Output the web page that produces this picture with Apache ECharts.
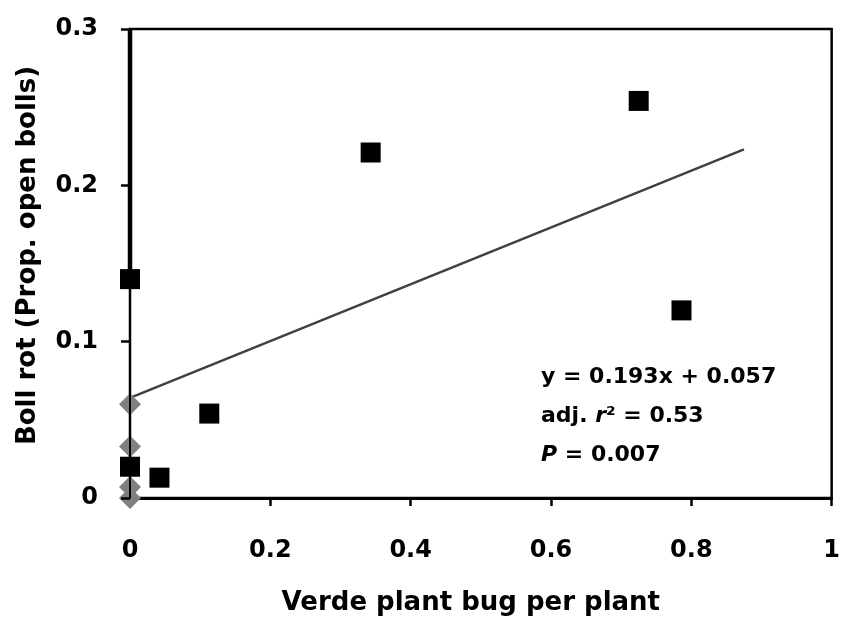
<!DOCTYPE html>
<html>

<head>
    <meta charset="utf-8" />
    <style type="text/css">
        html, body {
            margin: 0;
            padding: 0;
            background: #fff;
        }
    </style>
    <script src="https://cdn.jsdelivr.net/npm/echarts@6/dist/echarts.min.js"></script>
</head>

<body>
    <div id="main" style="width: 843px; height: 623px"></div>
    <script type="text/javascript">
        // 黑色方块点
        var squarePoints = [
            [0, 0.14], [0, 0.02], [0.042, 0.013], [0.113, 0.054],
            [0.343, 0.221], [0.725, 0.254], [0.786, 0.12]
        ];
        // 灰色菱形点 (x = 0)
        var diamondPoints = [[0, 0.06], [0, 0.033], [0, 0.007], [0, 0]];
        // 回归线两端
        var trendLine = [[0, 0.064], [0.875, 0.223]];
        // 左轴上方的粗线段
        var thickSeg = [[0, 0.14], [0, 0.3]];
        var xTicks = [0, 0.2, 0.4, 0.6, 0.8, 1];
        var yTicks = [0, 0.1, 0.2, 0.3];

        var font = "'DejaVu Sans', sans-serif";
        var myChart = echarts.init(document.getElementById("main"));

        function tickFmt(list) {
            return function (v) {
                var s = list.find(function (t) { return Math.abs(t - v) < 1e-9; });
                return s === undefined ? "" : String(s);
            };
        }

        var option = {
            animation: false,
            grid: {
                left: 130,
                top: 29,
                right: 10,
                bottom: 125,
                show: true,
                borderColor: "#000",
                borderWidth: 2.5
            },
            xAxis: {
                type: "value",
                min: 0,
                max: 1,
                interval: 0.2,
                name: "Verde plant bug per plant",
                nameLocation: "middle",
                nameGap: 92,
                nameTextStyle: { fontFamily: font, fontWeight: "bold", fontSize: 26, color: "#000", padding: [0, 20, 0, 0] },
                axisLine: { onZero: false, lineStyle: { color: "#000", width: 3 } },
                axisTick: { show: true, inside: false, length: 8, lineStyle: { color: "#000", width: 2.5 } },
                splitLine: { show: false },
                axisLabel: {
                    margin: 41,
                    fontFamily: font,
                    fontWeight: "bold",
                    fontSize: 24,
                    color: "#000",
                    formatter: tickFmt(xTicks)
                }
            },
            yAxis: {
                type: "value",
                min: 0,
                max: 0.3,
                interval: 0.1,
                z: 5,
                name: "Boll rot (Prop. open bolls)",
                nameLocation: "middle",
                nameGap: 89,
                nameTextStyle: { fontFamily: font, fontWeight: "bold", fontSize: 26, color: "#000", padding: [0, 0, 0, 16] },
                axisLine: { onZero: false, lineStyle: { color: "#000", width: 2 } },
                axisTick: { show: true, inside: false, length: 9, lineStyle: { color: "#000", width: 2.5 } },
                splitLine: { show: false },
                axisLabel: {
                    margin: 32,
                    fontFamily: font,
                    fontWeight: "bold",
                    fontSize: 24,
                    color: "#000",
                    formatter: tickFmt(yTicks)
                }
            },
            graphic: [
                {
                    type: "text",
                    left: 541,
                    top: 366,
                    style: {
                        text: "{n|y = 0.193x + 0.057}\n{n|adj. }{i|r}{n|² = 0.53}\n{i|P}{n| = 0.007}",
                        fill: "#000",
                        rich: {
                            n: { fontFamily: font, fontWeight: "bold", fontSize: 22, lineHeight: 39 },
                            i: { fontFamily: font, fontWeight: "bold", fontStyle: "italic", fontSize: 22, lineHeight: 39 }
                        }
                    }
                }
            ],
            series: [
                {
                    name: "trend",
                    type: "line",
                    data: trendLine,
                    symbol: "none",
                    lineStyle: { color: "#404040", width: 2.5 },
                    z: 1
                },
                {
                    name: "seg",
                    type: "line",
                    data: thickSeg,
                    symbol: "none",
                    lineStyle: { color: "#000", width: 4.5 },
                    z: 1
                },
                {
                    name: "diamond",
                    type: "scatter",
                    data: diamondPoints,
                    symbol: "diamond",
                    symbolSize: [22, 22],
                    itemStyle: { color: "#808080", opacity: 1 },
                    z: 2
                },
                {
                    name: "square",
                    type: "scatter",
                    data: squarePoints,
                    symbol: "rect",
                    symbolSize: [20, 20],
                    itemStyle: { color: "#000", opacity: 1 },
                    z: 3
                }
            ]
        };

        myChart.setOption(option);
    </script>
</body>

</html>
